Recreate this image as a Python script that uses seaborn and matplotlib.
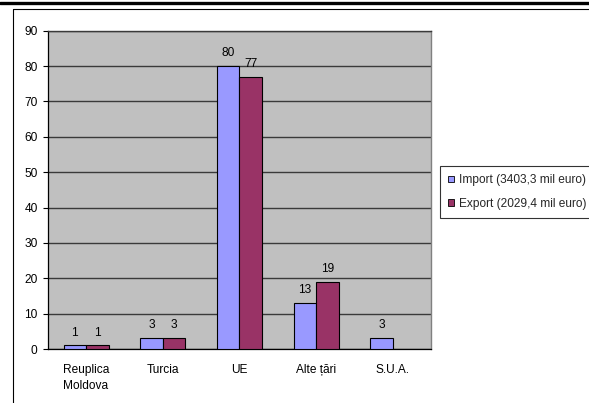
import matplotlib
matplotlib.use("Agg")
import matplotlib.pyplot as plt
from matplotlib.lines import Line2D
import pandas as pd
import seaborn as sns

# Share of trade by partner (%)
countries = ["Reuplica\nMoldova", "Turcia", "UE", "Alte țări", "S.U.A."]
import_share = [1, 3, 80, 13, 3]
export_share = [1, 3, 77, 19, None]   # no export bar for S.U.A.
series_names = ["Import (3403,3 mil euro)", "Export (2029,4 mil euro)"]
y_ticks = [0, 10, 20, 30, 40, 50, 60, 70, 80, 90]

rows = []
for c, v in zip(countries, import_share):
    rows.append({"tara": c, "serie": series_names[0], "pondere": v})
for c, v in zip(countries, export_share):
    if v is not None:
        rows.append({"tara": c, "serie": series_names[1], "pondere": v})
df = pd.DataFrame(rows)

FS = 8.6

sns.set_theme(style="white")
plt.rcParams["font.family"] = ["Liberation Sans", "DejaVu Sans"]
plt.rcParams["font.size"] = FS

fig = plt.figure(figsize=(5.89, 4.03), dpi=100)
fig.patch.set_facecolor("white")
ax = fig.add_axes([47.7 / 589, 1 - 349 / 403, (431 - 47.7) / 589, (349 - 30.7) / 403])
ax.set_facecolor("#C0C0C0")

sns.barplot(data=df, x="tara", y="pondere", hue="serie", order=countries,
            hue_order=series_names, palette=["#9999FF", "#993366"],
            saturation=1, width=0.587, edgecolor="black", linewidth=0.8,
            errorbar=None, ax=ax, zorder=3)

for cont in ax.containers:
    ax.bar_label(cont, fmt="%d", padding=5, fontsize=FS, color="black")

ax.set_xlim(-0.5, 4.5)
ax.set_ylim(0, 90)
ax.set_yticks(y_ticks)
ax.yaxis.grid(True, color="#3a3a3a", linewidth=1.0, zorder=1)
ax.set_axisbelow(True)
ax.set_xlabel("")
ax.set_ylabel("")

# category separators as ticks below the axis
ax.set_xticks([i - 0.5 for i in range(len(countries) + 1)], minor=True)
ax.tick_params(axis="x", which="major", length=0, pad=11, labelsize=FS, colors="black")
ax.tick_params(axis="x", which="minor", length=3.5, width=0.8, color="black", direction="out")
ax.tick_params(axis="y", which="major", length=3.3, width=0.8, color="black",
               direction="out", left=True, pad=4, labelsize=FS, labelcolor="black")
for lbl in ax.get_xticklabels():
    lbl.set_linespacing(1.4)

for side in ["left", "bottom"]:
    ax.spines[side].set_color("black")
    ax.spines[side].set_linewidth(0.9)
ax.spines["right"].set_color("#808080")
ax.spines["right"].set_linewidth(1.0)
ax.spines["top"].set_color("#3a3a3a")
ax.spines["top"].set_linewidth(1.0)

leg = ax.legend(loc="upper left", bbox_to_anchor=(440 / 589, 1 - 166 / 403),
                bbox_transform=fig.transFigure, borderaxespad=0, frameon=True,
                fancybox=False, edgecolor="black", fontsize=FS,
                handlelength=0.45, handleheight=0.45, handletextpad=0.4,
                labelspacing=0.95, borderpad=0.7, title=None)
leg.get_frame().set_linewidth(0.8)
for h in leg.legend_handles:
    h.set_edgecolor("black")
    h.set_linewidth(0.6)

# page frame lines
fig.add_artist(Line2D([0, 1], [1 - 2.8 / 403] * 2, transform=fig.transFigure,
                      color="black", linewidth=2.4))
fig.add_artist(Line2D([12.7 / 589, 1], [1 - 9 / 403] * 2, transform=fig.transFigure,
                      color="black", linewidth=0.8))
fig.add_artist(Line2D([12.7 / 589] * 2, [0, 1 - 9 / 403], transform=fig.transFigure,
                      color="black", linewidth=0.8))

fig.savefig("out.png", dpi=100)
